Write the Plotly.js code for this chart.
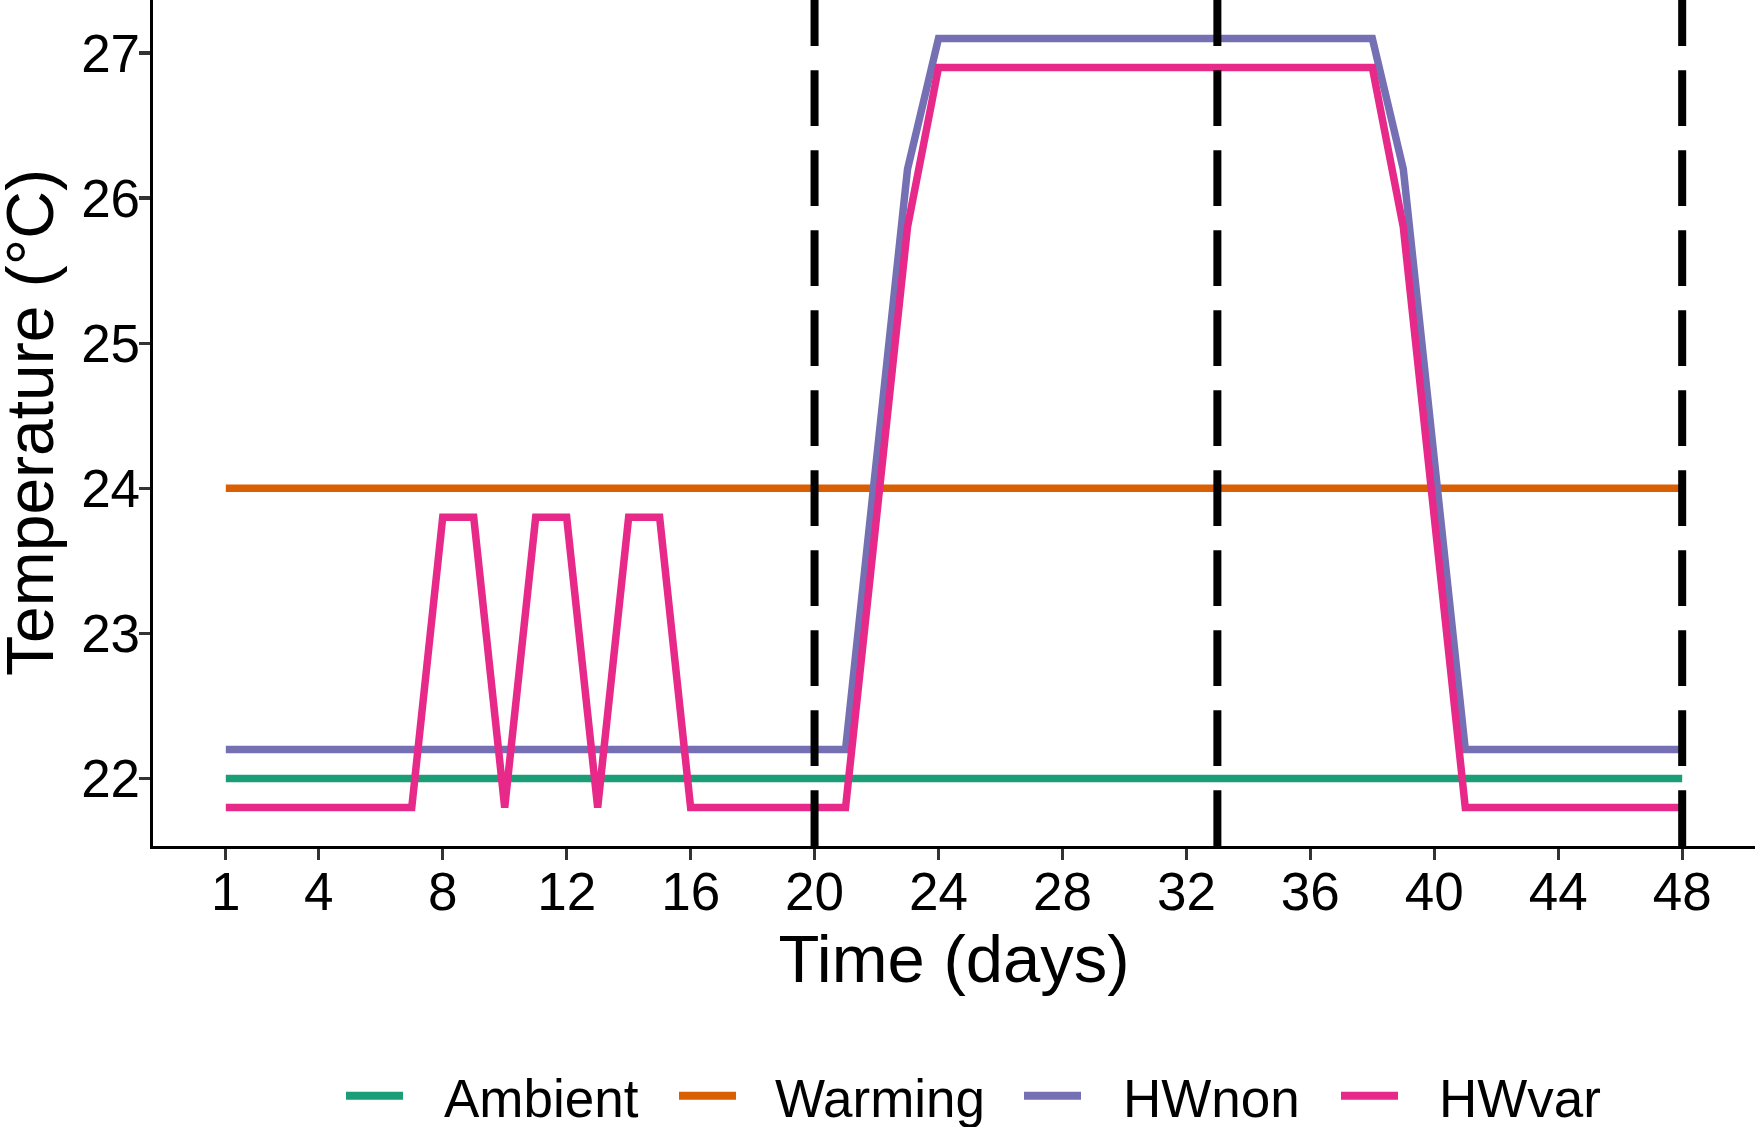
<!DOCTYPE html>
<html>
<head>
<meta charset="utf-8">
<script src="https://cdn.plot.ly/plotly-3.0.1.min.js"></script>
<style>
  html, body { margin: 0; padding: 0; background: #ffffff; }
  #chart { width: 1755px; height: 1127px; }
</style>
</head>
<body>
<div id="chart"></div>
<script>
// ---------- data ----------
const days = [1,2,3,4,5,6,7,8,9,10,11,12,13,14,15,16,17,18,19,20,21,22,23,24,
              25,26,27,28,29,30,31,32,33,34,35,36,37,38,39,40,41,42,43,44,45,46,47,48];

const seriesNames = ["Ambient", "Warming", "HWnon", "HWvar"];

const ambient = [22,22,22,22,22,22,22,22,22,22,22,22,22,22,22,22,22,22,22,22,22,22,22,22,
                 22,22,22,22,22,22,22,22,22,22,22,22,22,22,22,22,22,22,22,22,22,22,22,22];

const warming = [24,24,24,24,24,24,24,24,24,24,24,24,24,24,24,24,24,24,24,24,24,24,24,24,
                 24,24,24,24,24,24,24,24,24,24,24,24,24,24,24,24,24,24,24,24,24,24,24,24];

const hwNon = [22.2,22.2,22.2,22.2,22.2,22.2,22.2,22.2,22.2,22.2,22.2,22.2,22.2,22.2,22.2,22.2,
               22.2,22.2,22.2,22.2,22.2,24.2,26.2,27.1,27.1,27.1,27.1,27.1,27.1,27.1,27.1,27.1,
               27.1,27.1,27.1,27.1,27.1,27.1,26.2,24.2,22.2,22.2,22.2,22.2,22.2,22.2,22.2,22.2];

const hwVar = [21.8,21.8,21.8,21.8,21.8,21.8,21.8,23.8,23.8,21.8,23.8,23.8,21.8,23.8,23.8,21.8,
               21.8,21.8,21.8,21.8,21.8,23.8,25.8,26.9,26.9,26.9,26.9,26.9,26.9,26.9,26.9,26.9,
               26.9,26.9,26.9,26.9,26.9,26.9,25.8,23.8,21.8,21.8,21.8,21.8,21.8,21.8,21.8,21.8];

const seriesColors = ["#1B9E77", "#D95F02", "#7570B3", "#E7298A"];

const phaseLines = [20, 33, 48];

const xTickVals = [1, 4, 8, 12, 16, 20, 24, 28, 32, 36, 40, 44, 48];
const xTickText = ["1","4","8","12","16","20","24","28","32","36","40","44","48"];
const yTickVals = [22, 23, 24, 25, 26, 27];
const yTickText = ["22","23","24","25","26","27"];

const xTitle = "Time (days)";
const yTitle = "Temperature (°C)";

// ---------- figure geometry ----------
const W = 1755, H = 1127;
const M = { l: 153, r: 0, t: 0, b: 281 };
const plotW = W - M.l - M.r, plotH = H - M.t - M.b;
const pxX = px => (px - M.l) / plotW;           // pixel -> paper x
const pxY = py => (M.t + plotH - py) / plotH;    // pixel -> paper y

const FONT = "'Liberation Sans', Arial, Helvetica, sans-serif";

const seriesValues = [ambient, warming, hwNon, hwVar];
const traces = seriesNames.map((name, i) => ({
  type: "scatter",
  mode: "lines",
  name: name,
  x: days,
  y: seriesValues[i],
  line: { color: seriesColors[i], width: 7.5, shape: "linear" },
  showlegend: false,
  hoverinfo: "skip"
}));

// dashed vertical lines (ggplot geom_vline)
const shapes = phaseLines.map(d => ({
  type: "line", xref: "x", yref: "paper",
  x0: d, x1: d, y0: 0, y1: 1,
  line: { color: "#000000", width: 8, dash: "55.7px,24.3px" },
  layer: "above"
}));

// y-axis title (rotated), placed in pixels
const annotations = [{
  xref: "paper", yref: "paper",
  x: pxX(30), y: 0.5,
  xanchor: "center", yanchor: "middle",
  textangle: -90,
  text: yTitle, showarrow: false,
  font: { family: FONT, size: 66, color: "#000000" },
  borderpad: 0
}];

// bottom legend (keys + labels), placed in pixels
const legendKeyX = [346, 679, 1024, 1341];
const legendTextX = [443, 774, 1122, 1438];
const legendKeyY = 1095.7;
const legendTextMidY = 1098.3;
seriesNames.forEach((name, i) => {
  shapes.push({
    type: "line", xref: "paper", yref: "paper",
    x0: pxX(legendKeyX[i]), x1: pxX(legendKeyX[i] + 57),
    y0: pxY(legendKeyY), y1: pxY(legendKeyY),
    line: { color: seriesColors[i], width: 8 }
  });
  annotations.push({
    xref: "paper", yref: "paper",
    x: pxX(legendTextX[i]), y: pxY(legendTextMidY),
    xanchor: "left", yanchor: "middle",
    text: name, showarrow: false,
    font: { family: FONT, size: 53, color: "#000000" },
    borderpad: 0
  });
});

const layout = {
  width: W, height: H,
  margin: M,
  paper_bgcolor: "#ffffff",
  plot_bgcolor: "#ffffff",
  showlegend: false,
  font: { family: FONT, color: "#000000" },
  xaxis: {
    range: [-1.35, 50.35],
    tickmode: "array", tickvals: xTickVals, ticktext: xTickText,
    ticks: "outside", ticklen: 11, tickwidth: 3.3, tickcolor: "#333333",
    ticklabelstandoff: -14,
    showline: true, linecolor: "#000000", linewidth: 3.3,
    showgrid: false, zeroline: false,
    tickfont: { family: FONT, size: 53, color: "#000000" },
    title: { text: xTitle, font: { family: FONT, size: 67, color: "#000000" }, standoff: 10 },
    automargin: false
  },
  yaxis: {
    range: [21.535, 27.365],
    tickmode: "array", tickvals: yTickVals, ticktext: yTickText,
    ticks: "outside", ticklen: 11, tickwidth: 3.3, tickcolor: "#333333",
    ticklabelstandoff: -12,
    showline: true, linecolor: "#000000", linewidth: 3.3,
    showgrid: false, zeroline: false,
    tickfont: { family: FONT, size: 53, color: "#000000" },
    automargin: false
  },
  shapes: shapes,
  annotations: annotations
};

Plotly.newPlot("chart", traces, layout, { staticPlot: true, displayModeBar: false });
</script>
</body>
</html>
